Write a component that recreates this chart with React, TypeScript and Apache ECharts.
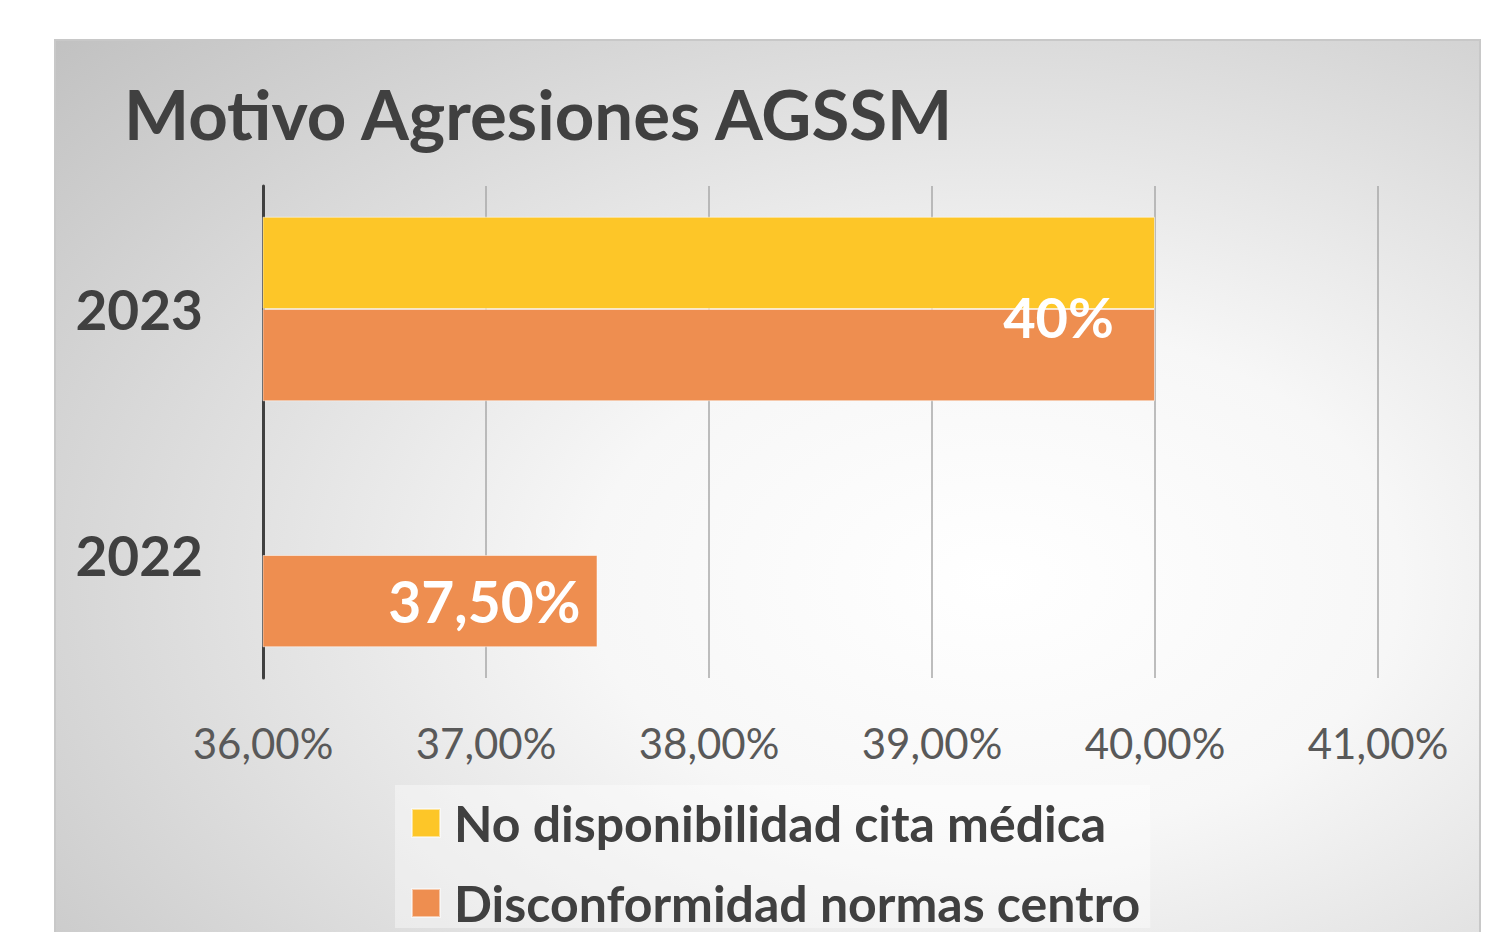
import React, { useEffect, useRef } from "react";
import * as echarts from "echarts";

const categories = ["2022", "2023"];
const seriesNames = ["No disponibilidad cita médica", "Disconformidad normas centro"];
const noDisponibilidad: (number | null)[] = [null, 40];
const disconformidad: number[] = [37.5, 40];
const disconformidadLabels = ["37,50%", "40%"];
const xTicks = { min: 36, max: 41, interval: 1 };

const FONT = "Lato, 'Open Sans', sans-serif";
const DARK = "#404040";
const YELLOW = "#FDC628";
const ORANGE = "#EE8E50";

export default function App() {
  const ref = useRef<HTMLDivElement>(null);
  useEffect(() => {
    if (!ref.current) return;
    const chart = echarts.init(ref.current, undefined, { renderer: "svg" });
    chart.setOption({
      animation: false,
      backgroundColor: "#ffffff",
      graphic: [
        {
          type: "rect",
          z: -10,
          silent: true,
          shape: { x: 55, y: 40, width: 1425, height: 900 },
          style: {
            fill: new echarts.graphic.RadialGradient(0.66, 0.6, 0.95, [
              { offset: 0, color: "#ffffff" },
              { offset: 0.3, color: "#f7f7f7" },
              { offset: 1, color: "#bcbcbc" },
            ]),
            stroke: "#c8c8c8",
            lineWidth: 2,
          },
        },
      ],
      title: {
        text: "Motivo Agresiones AGSSM",
        left: 119,
        top: 74,
        textStyle: { fontFamily: FONT, fontWeight: "bold", fontSize: 69, color: DARK },
      },
      legend: {
        data: seriesNames,
        orient: "vertical",
        left: 395,
        top: 785,
        padding: [13, 10, 0, 16],
        itemGap: 30,
        itemWidth: 28,
        itemHeight: 28,
        icon: "rect",
        backgroundColor: "rgba(255,255,255,0.4)",
        textStyle: { fontFamily: FONT, fontWeight: "bold", fontSize: 50, color: DARK, lineHeight: 50, padding: [0, 0, 0, 9] },
      },
      grid: { left: 263, right: 130, top: 186, bottom: 254, containLabel: false },
      xAxis: {
        type: "value",
        min: xTicks.min,
        max: xTicks.max,
        interval: xTicks.interval,
        axisLine: { show: false },
        axisTick: { show: false },
        splitLine: { show: true, lineStyle: { color: "#a8a8a8", width: 1.5 } },
        axisLabel: {
          margin: 44,
          fontFamily: FONT,
          fontSize: 42,
          color: "#595959",
          formatter: (v: number) => v.toFixed(2).replace(".", ",") + "%",
        },
      },
      yAxis: {
        type: "category",
        data: categories,
        axisLine: { show: true, lineStyle: { color: DARK, width: 3 } },
        axisTick: { show: false },
        axisLabel: { margin: 60, fontFamily: FONT, fontWeight: "bold", fontSize: 55, color: DARK },
      },
      series: [
        {
          name: seriesNames[0],
          type: "bar",
          barCategoryGap: "25%",
          barGap: "0%",
          itemStyle: { color: YELLOW, borderColor: "rgba(255,255,255,0.5)", borderWidth: 1 },
          data: noDisponibilidad,
        },
        {
          name: seriesNames[1],
          type: "bar",
          barCategoryGap: "25%",
          barGap: "0%",
          itemStyle: { color: ORANGE, borderColor: "rgba(255,255,255,0.5)", borderWidth: 1 },
          data: disconformidad.map((v, i) => ({
            value: v,
            label: {
              show: true,
              position: "insideRight",
              distance: i === 1 ? 41 : 17,
              offset: i === 1 ? [0, -39] : [0, 0],
              formatter: disconformidadLabels[i],
              fontFamily: FONT,
              fontWeight: "bold",
              fontSize: i === 1 ? 56 : 57,
              color: "#ffffff",
            },
          })),
        },
      ],
    });
    return () => chart.dispose();
  }, []);
  return <div ref={ref} style={{ position: "fixed", left: 0, top: 0, width: 1508, height: 932 }} />;
}
